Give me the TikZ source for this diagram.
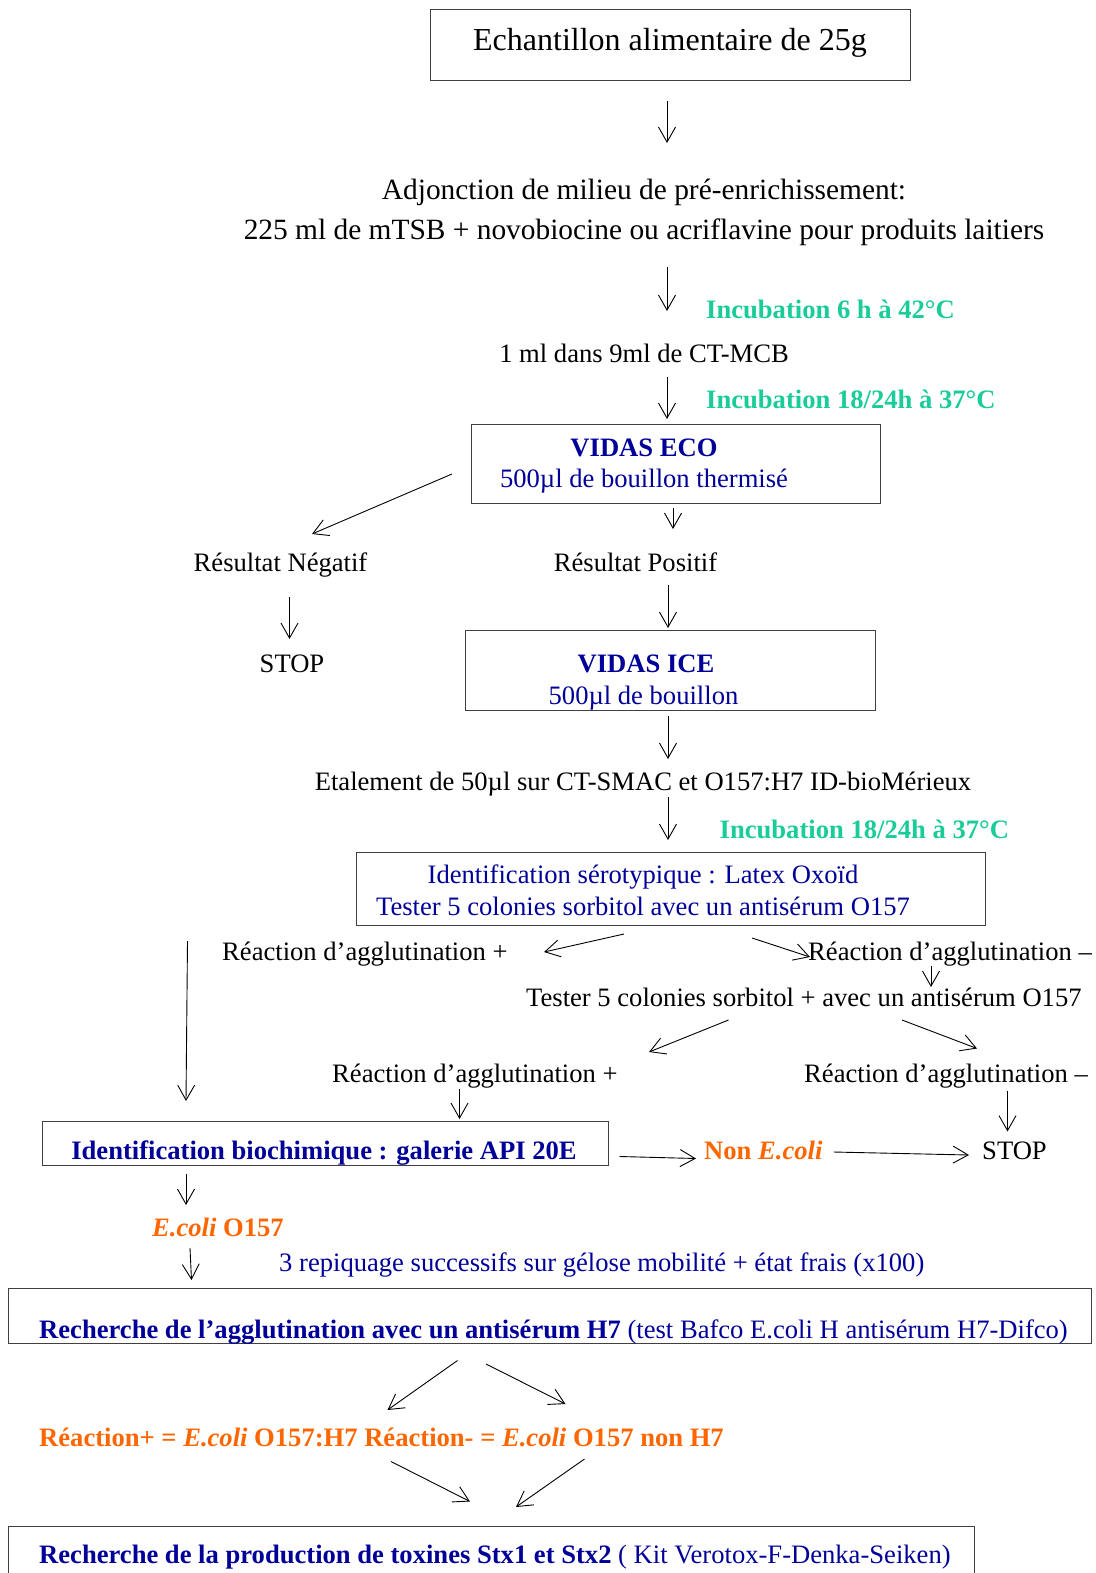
\documentclass[tikz,border=0pt]{standalone}
\usepackage{fontspec}
\setmainfont{Liberation Serif}
\usetikzlibrary{arrows.meta}
\definecolor{incgreen}{RGB}{26,204,153}
\definecolor{navyblue}{RGB}{0,0,153}
\definecolor{orng}{RGB}{255,102,0}
\begin{document}
\begin{tikzpicture}[x=1pt,y=-1pt,
  txt/.style={inner sep=0pt, anchor=base, font=\fontsize{26.6}{30}\selectfont},
  txtl/.style={txt, anchor=base west},
  inc/.style={txtl, text=incgreen, font=\fontsize{26.6}{30}\selectfont\bfseries},
  bluet/.style={text=navyblue},
  orgt/.style={text=orng, font=\fontsize{26.6}{30}\selectfont\bfseries},
  boxn/.style={draw=black!75, line width=1pt, inner sep=0pt},
  arr/.style={-{Straight Barb[length=15pt,width=17pt]}, line width=0.9pt}]
\useasboundingbox[fill=white] (0,0) rectangle (1095,1573);

% boxes
\node[boxn, minimum width=480pt, minimum height=71pt] (b1) at (670,45.5) {};
\node[boxn, minimum width=409pt, minimum height=79pt] (b2) at (675.5,463.5) {};
\node[boxn, minimum width=410pt, minimum height=80pt] (b3) at (670,670) {};
\node[boxn, minimum width=629pt, minimum height=73pt] (b4) at (670.5,888.5) {};
\node[boxn, minimum width=566pt, minimum height=44pt] (b5) at (325,1143) {};
\node[boxn, minimum width=1083pt, minimum height=55pt] (b6) at (549.5,1315.5) {};
\coordinate (b7a) at (8,1573);
\coordinate (b7b) at (974,1573);
\draw[draw=black!75, line width=1pt] (b7a) |- (974,1526) -- (b7b);

% texts
\node[txt, font=\fontsize{32}{36}\selectfont] (t1) at (670,51) {Echantillon alimentaire de 25g};
\node[txt, font=\fontsize{29.4}{33}\selectfont] (t2) at (644,200) {Adjonction de milieu de pré-enrichissement:};
\node[txt, font=\fontsize{29.4}{33}\selectfont] (t3) at (644,239) {225 ml de mTSB + novobiocine ou acriflavine pour produits laitiers};
\node[inc] (inc1) at (706,318) {Incubation 6 h à 42°C};
\node[txt] (t4) at (644,362.5) {1 ml dans 9ml de CT-MCB};
\node[inc] (inc2) at (706,408.5) {Incubation 18/24h à 37°C};
\node[txt, bluet, font=\fontsize{26.6}{30}\selectfont\bfseries] (eco1) at (644,456) {VIDAS ECO};
\node[txt, bluet] (eco2) at (644,487) {500µl de bouillon thermisé};
\node[txt] (neg) at (280.5,571.5) {Résultat Négatif};
\node[txt] (pos) at (635.5,571.5) {Résultat Positif};
\node[txt] (stop1) at (292,672) {STOP};
\node[txt, bluet, font=\fontsize{26.6}{30}\selectfont\bfseries] (ice1) at (646,672) {VIDAS ICE};
\node[txt, bluet] (ice2) at (643.5,704) {500µl de bouillon};
\node[txt] (etal) at (643,790.5) {Etalement de 50µl sur CT-SMAC et O157:H7 ID-bioMérieux};
\node[inc] (inc3) at (719.5,838.5) {Incubation 18/24h à 37°C};
\node[txt, bluet] (sero1) at (643,883.5) {Identification sérotypique : Latex Oxoïd};
\node[txt, bluet] (sero2) at (643,915) {Tester 5 colonies sorbitol avec un antisérum O157};
\node[txtl] (rp1) at (222,960.5) {Réaction d’agglutination +};
\node[txtl] (rm1) at (808,960.5) {Réaction d’agglutination –};
\node[txtl] (test2) at (526,1006.5) {Tester 5 colonies sorbitol + avec un antisérum O157};
\node[txtl] (rp2) at (332,1082) {Réaction d’agglutination +};
\node[txtl] (rm2) at (804,1082) {Réaction d’agglutination –};
\node[txt, bluet, font=\fontsize{26.6}{30}\selectfont\bfseries] (api) at (324,1159) {Identification biochimique : galerie API 20E};
\node[txtl, orgt] (nonecoli) at (704,1159) {Non \textit{E.coli}};
\node[txtl] (stop2) at (982,1159) {STOP};
\node[txtl, orgt] (ecoli) at (152,1236) {\textit{E.coli} O157};
\node[txtl, bluet] (rep) at (279,1271) {3 repiquage successifs sur gélose mobilité + état frais (x100)};
\node[txtl, bluet] (h7) at (39,1338) {\textbf{Recherche de l’agglutination avec un antisérum H7} (test Bafco E.coli H antisérum H7-Difco)};
\node[txtl, orgt] (react) at (39,1446.5) {Réaction+ = \textit{E.coli} O157:H7 Réaction- = \textit{E.coli} O157 non H7};
\node[txtl, bluet] (stx) at (39,1563) {\textbf{Recherche de la production de toxines Stx1 et Stx2} ( Kit Verotox-F-Denka-Seiken)};

% arrow end points
\coordinate (a1s) at (667,101);   \coordinate (a1e) at (667,143);
\coordinate (a2s) at (667,267);   \coordinate (a2e) at (667,311);
\coordinate (a3s) at (667,377);   \coordinate (a3e) at (667,419);
\coordinate (a4s) at (452,474);   \coordinate (a4e) at (312,534);
\coordinate (a5s) at (673,508);   \coordinate (a5e) at (673,529);
\coordinate (a6s) at (289.5,597); \coordinate (a6e) at (289.5,639);
\coordinate (a7s) at (668,585);   \coordinate (a7e) at (668,628);
\coordinate (a8s) at (668,716);   \coordinate (a8e) at (668,759);
\coordinate (a9s) at (668,797);   \coordinate (a9e) at (668,840);
\coordinate (a10s) at (187.5,941); \coordinate (a10e) at (186,1101);
\coordinate (a11s) at (624,934);  \coordinate (a11e) at (544,952);
\coordinate (a12s) at (752,938);  \coordinate (a12e) at (810,957);
\coordinate (a13s) at (931,966);  \coordinate (a13e) at (931,987);
\coordinate (a14s) at (728.5,1020); \coordinate (a14e) at (649,1052);
\coordinate (a15s) at (902,1020); \coordinate (a15e) at (977,1048.5);
\coordinate (a16s) at (459.5,1089); \coordinate (a16e) at (459.5,1119);
\coordinate (a17s) at (1007.5,1090.5); \coordinate (a17e) at (1007.5,1131.5);
\coordinate (a18s) at (619.5,1156.5); \coordinate (a18e) at (696,1158.5);
\coordinate (a19s) at (833.5,1152); \coordinate (a19e) at (969,1155);
\coordinate (a20s) at (186,1174); \coordinate (a20e) at (186,1205);
\coordinate (a21s) at (190,1248); \coordinate (a21e) at (191.5,1280);
\coordinate (a22s) at (457.5,1360.5); \coordinate (a22e) at (387.5,1410);
\coordinate (a23s) at (486,1364); \coordinate (a23e) at (565.5,1404);
\coordinate (a24s) at (391,1461.5); \coordinate (a24e) at (470,1501.5);
\coordinate (a25s) at (584.5,1459); \coordinate (a25e) at (516,1507);

\foreach \i in {1,...,25} { \draw[arr] (a\i s) -- (a\i e); }
\end{tikzpicture}
\end{document}
